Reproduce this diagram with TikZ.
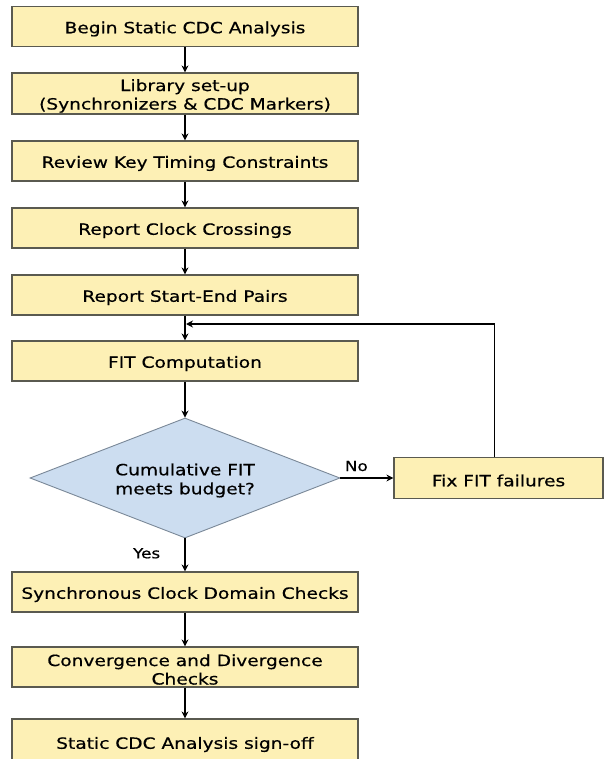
\documentclass[tikz,border=0pt]{standalone}
\usepackage{fontspec}
\setmainfont[FakeStretch=1.2,FakeBold=0.5]{DejaVu Sans}
\usetikzlibrary{shapes.geometric,arrows.meta}
\definecolor{boxfill}{HTML}{FDF0B5}
\definecolor{boxline}{HTML}{5A5A50}
\definecolor{dfill}{HTML}{CCDDF0}
\definecolor{dline}{HTML}{7A8898}
\newcommand\flowbox[4]{%
  \node[stepbox,#4] (#1) at (#2) {};
  \node[steptext] (#1t) at ([yshift=-2.5pt]#1.center) {#3};}
\begin{document}
\begin{tikzpicture}[x=1pt,y=-1pt,
  stepbox/.style={draw=boxline, line width=1.2pt, fill=boxfill, minimum width=346pt,
    minimum height=40pt, inner sep=0pt},
  steptext/.style={inner sep=0pt, align=center, font=\fontsize{15.5}{18.5}\selectfont},
  flow/.style={line width=1.6pt, -{Stealth[length=7pt,width=7pt]}},
  lbl/.style={font=\fontsize{14}{16}\selectfont, inner sep=0pt}]
\clip (0,0) rectangle (606,759);
\fill[white] (0,0) rectangle (606,759);
\flowbox{b1}{185,26.5}{Begin Static CDC Analysis}{}
\flowbox{b2}{185,93.5}{Library set-up\\(Synchronizers \& CDC Markers)}{minimum height=41pt}
\flowbox{b3}{185,161}{Review Key Timing Constraints}{}
\flowbox{b4}{185,228}{Report Clock Crossings}{}
\flowbox{b5}{185,295}{Report Start-End Pairs}{}
\flowbox{b6}{185,361}{FIT Computation}{}
\node[diamond, aspect=2.58, draw=dline, line width=0.9pt, fill=dfill, minimum width=310pt,
  minimum height=120pt, inner sep=0pt] (d) at (185,478) {};
\node[steptext, font=\fontsize{15.5}{19}\selectfont] (dt) at ([yshift=-2.5pt]d.center) {Cumulative FIT\\meets budget?};
\flowbox{fix}{498.5,478}{Fix FIT failures}{minimum width=209pt, minimum height=41pt}
\flowbox{b7}{185,592}{Synchronous Clock Domain Checks}{}
\flowbox{b8}{185,667}{Convergence and Divergence\\Checks}{}
\flowbox{b9}{185,742}{Static CDC Analysis sign-off}{minimum height=46pt}
\coordinate (join) at (186,324);
\draw[flow] (b1) -- (b2);
\draw[flow] (b2) -- (b3);
\draw[flow] (b3) -- (b4);
\draw[flow] (b4) -- (b5);
\draw[flow] (b5) -- (b6);
\draw[flow] (b6) -- (d);
\draw[flow] (d.east) -- (fix.west) node[lbl, pos=0.3, above=6pt] {No};
\draw[flow] ([xshift=-4pt]fix.north) |- (join);
\draw[flow] (d.south) -- (b7.north) node[lbl, pos=0.45, left=24pt] {Yes};
\draw[flow] (b7) -- (b8);
\draw[flow] (b8) -- (b9);
\end{tikzpicture}
\end{document}
